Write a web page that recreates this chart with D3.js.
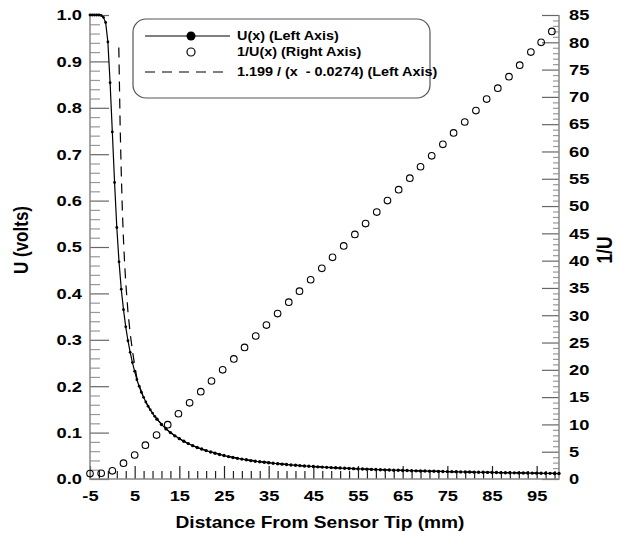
<!DOCTYPE html>
<html>
<head>
<meta charset="utf-8">
<script src="https://cdn.jsdelivr.net/npm/d3@7"></script>
<style>
body { margin: 0; background: #fff; }
text { font-family: "Liberation Sans", Arial, sans-serif; font-weight: bold; fill: #000; }
</style>
</head>
<body>
<svg id="chart" width="622" height="538"></svg>
<script>
// measured U(x), left axis (x in mm)
const xU = [-5,-4.5,-4,-3.5,-3,-2.5,-2,-1.5,-1,-0.5,0,0.5,1,1.5,2,2.5,3,3.5,4,4.5,5,5.5,6,6.5,7,7.5,8,8.5,9,9.5,
    10,11,12,13,14,15,16,17,18,19,20,21,22,23,24,25,26,27,28,29,30,31,32,33,34,35,36,37,38,39,40,
    41,42,43,44,45,46,47,48,49,50,51,52,53,54,55,56,57,58,59,60,61,62,63,64,65,66,67,68,69,70,
    71,72,73,74,75,76,77,78,79,80,81,82,83,84,85,86,87,88,89,90,91,92,93,94,95,96,97,98,99,100];
const uVolts = [1.0,1.0,1.0,1.0,1.0,0.999,0.995,0.984,0.942,0.854,0.748,0.639,0.542,0.468,0.409,0.365,0.328,0.298,0.273,0.251,
    0.232,0.214,0.200,0.187,0.176,0.166,0.157,0.149,0.142,0.135,
    0.129,0.1176,0.108,0.100,0.093,0.087,0.0813,0.0763,0.0719,0.0680,0.0645,0.0612,0.0581,0.0554,0.0529,0.0505,0.0483,0.0463,0.0445,0.0429,0.0414,
    0.0396,0.0383,0.0371,0.0360,0.0349,0.0339,0.0329,0.0320,0.0311,0.0303,0.0295,0.0288,0.0281,0.0275,0.0268,0.0262,0.0257,0.0251,0.0246,0.0241,
    0.0236,0.0232,0.0227,0.0223,0.0219,0.0215,0.0211,0.0207,0.0204,0.0200,0.0197,0.0194,0.0190,0.0187,0.0184,0.0182,0.0179,0.0176,0.0174,0.0171,
    0.0169,0.0166,0.0164,0.0162,0.0160,0.0158,0.0155,0.0153,0.0151,0.0150,0.0148,0.0146,0.0144,0.0142,0.0141,0.0139,0.0137,0.0136,0.0134,0.0133,
    0.0131,0.0130,0.0128,0.0127,0.0126,0.0124,0.0123,0.0122,0.0120,0.0119];

// 1/U(x), right axis
const xInv = [-5,-2.5,0,2.5,5,7.4,9.9,12.4,14.8,17.3,19.8,22.2,24.7,27.2,29.6,32.1,34.5,37.0,39.5,41.9,44.4,
    46.9,49.3,51.8,54.3,56.7,59.2,61.6,64.1,66.6,69.0,71.5,74.0,76.4,78.9,81.4,83.8,86.3,88.8,91.2,93.7,96.0,98.4];
const invU = [1.0,1.05,1.5,2.9,4.4,6.2,8.05,9.95,11.95,13.95,16.0,17.95,20.0,22.0,24.1,26.2,28.2,30.3,32.4,34.4,36.5,
    38.6,40.6,42.7,44.8,46.8,48.9,51.0,53.0,55.1,57.2,59.2,61.3,63.4,65.4,67.5,69.6,71.6,73.7,75.8,78.2,80.0,82.0];

// fitted curve 1.199 / (x - 0.0274), left axis
const xFit = [1.45,1.75,2,2.25,2.5,2.75,3,3.5,4,4.5,5,5.5,6,7,8,9,10,12,14,16,18,20,25,30,40,50,60,70,80,90,100];
const uFit = [0.93,0.76,0.66,0.577,0.515,0.465,0.424,0.36,0.313,0.277,0.245,0.218,0.202,0.176,0.157,0.142,0.129,
    0.108,0.093,0.0813,0.0719,0.0645,0.0505,0.0414,0.0303,0.0241,0.0200,0.0171,0.0150,0.0133,0.0119];

const xTickVals = [-5,5,15,25,35,45,55,65,75,85,95];
const leftTickVals = [0,0.1,0.2,0.3,0.4,0.5,0.6,0.7,0.8,0.9,1.0];
const rightTickVals = [0,5,10,15,20,25,30,35,40,45,50,55,60,65,70,75,80,85];
const legendLabels = ["U(x) (Left Axis)", "1/U(x) (Right Axis)", "1.199 / (x  - 0.0274) (Left Axis)"];

const L = 90, R = 559, T = 15, B = 479;
const SX = 1.22; // glyphs in the picture are a bit wide

const svg = d3.select("#chart");
svg.append("rect").attr("width", 622).attr("height", 538).attr("fill", "#fff");

const x = d3.scaleLinear().domain([-5, 100]).range([L, R]);
const yL = d3.scaleLinear().domain([0, 1]).range([B, T]);
const yR = d3.scaleLinear().domain([0, 85]).range([B, T]);

function styleAxis(g, col) {
    g.select(".domain").remove();
    g.selectAll(".tick line").attr("stroke", col).attr("stroke-width", 1.2);
    g.selectAll(".tick text").attr("font-size", 15).attr("fill", "#000");
}

// left axis
const minorL = d3.range(0, 1.001, 0.02).filter(v => Math.abs(v * 10 - Math.round(v * 10)) > 0.01);
svg.append("g").attr("transform", "translate(" + L + ",0)")
    .call(d3.axisLeft(yL).tickValues(minorL).tickSize(-10).tickFormat(""))
    .call(g => styleAxis(g, "#999"));
const gl = svg.append("g").attr("transform", "translate(" + L + ",0)")
    .call(d3.axisLeft(yL).tickValues(leftTickVals).tickSize(-19).tickPadding(8).tickFormat(d3.format(".1f")))
    .call(g => styleAxis(g, "#666"));
gl.selectAll(".tick text").attr("x", -8 / SX).attr("transform", "scale(" + SX + ",1)");

// right axis
const minorR = d3.range(0, 86, 1).filter(v => v % 5 !== 0);
svg.append("g").attr("transform", "translate(" + R + ",0)")
    .call(d3.axisRight(yR).tickValues(minorR).tickSize(-6).tickFormat(""))
    .call(g => styleAxis(g, "#999"));
const gr = svg.append("g").attr("transform", "translate(" + R + ",0)")
    .call(d3.axisRight(yR).tickValues(rightTickVals).tickSize(-17).tickPadding(10))
    .call(g => styleAxis(g, "#666"));
gr.selectAll(".tick text").attr("x", 10 / SX).attr("transform", "scale(" + SX + ",1)");

// bottom axis
const minorB = d3.range(-3, 100, 2).filter(v => (v + 5) % 10 !== 0);
svg.append("g").attr("transform", "translate(0," + B + ")")
    .call(d3.axisBottom(x).tickValues(minorB).tickSize(-8).tickFormat(""))
    .call(g => styleAxis(g, "#222"));
const gb = svg.append("g").attr("transform", "translate(0," + B + ")")
    .call(d3.axisBottom(x).tickValues(xTickVals).tickSize(-13).tickPadding(11).tickFormat(d => String(d)))
    .call(g => styleAxis(g, "#222"));
gb.selectAll(".tick text").attr("transform", "scale(" + SX + ",1)");

// axis lines
svg.append("path")
    .attr("d", "M" + L + "," + T + "V" + B + "H" + R + "V" + T)
    .attr("fill", "none").attr("stroke", "#888").attr("stroke-width", 1.5);

// axis titles
function stretchText(txt, px, py, size, rot) {
    return svg.append("text").text(txt)
        .attr("text-anchor", "middle")
        .attr("font-size", size)
        .attr("transform", "translate(" + px + "," + py + ") scale(" + SX + ",1)" + (rot ? " rotate(" + rot + ")" : ""));
}
stretchText("Distance From Sensor Tip (mm)", 320, 528, 15.7, 0);
stretchText("U (volts)", 28, 240, 17, -90);
stretchText("1/U", 612, 250, 17.5, -90);

// curves
const plot = svg.append("g");
const lineL = d3.line().x(d => x(d[0])).y(d => yL(d[1]));

plot.append("path")
    .datum(d3.zip(xFit, uFit))
    .attr("d", lineL)
    .attr("fill", "none").attr("stroke", "#000").attr("stroke-width", 1.2)
    .attr("stroke-dasharray", "10,7");

plot.append("path")
    .datum(d3.zip(xU, uVolts))
    .attr("d", lineL)
    .attr("fill", "none").attr("stroke", "#000").attr("stroke-width", 1.2);

plot.selectAll(".dot")
    .data(d3.zip(xU, uVolts))
    .enter().append("circle")
    .attr("class", "dot")
    .attr("cx", d => x(d[0])).attr("cy", d => yL(d[1]))
    .attr("r", d => d[0] >= 10 ? 1.7 : 1.4).attr("fill", "#000");

plot.selectAll(".inv")
    .data(d3.zip(xInv, invU))
    .enter().append("circle")
    .attr("class", "inv")
    .attr("cx", d => x(d[0])).attr("cy", d => yR(d[1]))
    .attr("r", 3.3).attr("fill", "none").attr("stroke", "#000").attr("stroke-width", 1.1);

// legend
const lg = svg.append("g");
lg.append("rect")
    .attr("x", 133).attr("y", 19).attr("width", 297).attr("height", 79).attr("rx", 13)
    .attr("fill", "#fff").attr("stroke", "#555").attr("stroke-width", 1.2);
const rowY = [36, 52, 72];
lg.append("line").attr("x1", 145).attr("x2", 230).attr("y1", rowY[0]).attr("y2", rowY[0])
    .attr("stroke", "#000").attr("stroke-width", 1.2);
lg.append("circle").attr("cx", 191).attr("cy", rowY[0]).attr("r", 4.5).attr("fill", "#000");
lg.append("circle").attr("cx", 191).attr("cy", rowY[1]).attr("r", 4).attr("fill", "none")
    .attr("stroke", "#000").attr("stroke-width", 1.2);
lg.append("line").attr("x1", 145).attr("x2", 230).attr("y1", rowY[2]).attr("y2", rowY[2])
    .attr("stroke", "#000").attr("stroke-width", 1.2).attr("stroke-dasharray", "10,7");
legendLabels.forEach((s, i) => {
    lg.append("text").text(s)
        .style("white-space", "pre")
        .attr("font-size", 12)
        .attr("dy", "0.35em")
        .attr("transform", "translate(237," + rowY[i] + ") scale(1.2,1)");
});
</script>
</body>
</html>
